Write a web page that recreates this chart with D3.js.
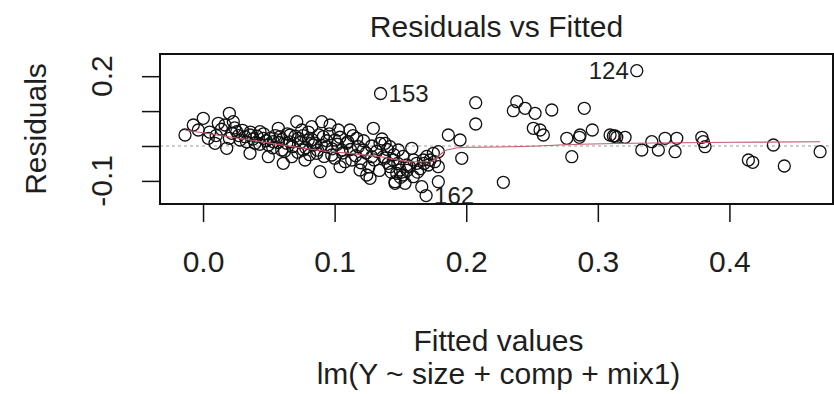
<!DOCTYPE html>
<html>
<head>
<meta charset="utf-8">
<script src="https://cdn.jsdelivr.net/npm/d3@7"></script>
<style>
  body { margin: 0; background: #fff; }
  svg { display: block; }
  text { font-family: "Liberation Sans", Arial, sans-serif; fill: #1e1e1e; }
</style>
</head>
<body>
<svg id="chart" width="834" height="394"></svg>
<script>
// Fitted values of the model lm(Y ~ size + comp + mix1)
const fitted = [
  -0.0137, -0.0074, -0.0036, 0.0002, 0.0040, 0.0091, 0.0116, 0.0167, 0.0200, 0.0180,
  0.0218, 0.0230, 0.0256, 0.0281, 0.0319, 0.0357, 0.0357, 0.0395, 0.0433, 0.0458,
  0.0496, 0.0496, 0.0534, 0.0572, 0.0585, 0.0598, 0.0610, 0.0636, 0.0661, 0.0674,
  0.0712, 0.0724, 0.0750, 0.0762, 0.0775, 0.0800, 0.0826, 0.0838, 0.0864, 0.0889,
  0.0902, 0.0914, 0.0940, 0.0965, 0.0978, 0.1003, 0.1028, 0.1041, 0.1054, 0.1092,
  0.1117, 0.1130, 0.1168, 0.1193, 0.1218, 0.1244, 0.1269, 0.1294, 0.1282, 0.1345,
  0.1370, 0.1408, 0.1421, 0.1459, 0.1472, 0.1484,
  0.005, 0.010, 0.014, 0.020, 0.024, 0.027, 0.030, 0.033, 0.036, 0.038,
  0.041, 0.043, 0.046, 0.048, 0.051, 0.053, 0.055, 0.057, 0.060, 0.062,
  0.064, 0.066, 0.068, 0.070, 0.072, 0.074, 0.076, 0.078, 0.080, 0.081,
  0.083, 0.085, 0.087, 0.088, 0.090, 0.092, 0.094, 0.096, 0.098, 0.100,
  0.102, 0.104, 0.106, 0.108, 0.110, 0.112, 0.114, 0.116, 0.118, 0.120,
  0.122, 0.124, 0.126, 0.128, 0.130, 0.132, 0.134, 0.136, 0.138, 0.140,
  0.143, 0.145, 0.148, 0.150, 0.152, 0.155, 0.157, 0.160, 0.163, 0.165,
  0.168, 0.170, 0.176,
  0.1383, 0.1421, 0.1446, 0.1497, 0.1522, 0.1535, 0.1459, 0.1548, 0.1586, 0.1598,
  0.1624, 0.1662, 0.1674, 0.1712, 0.1725, 0.1750, 0.1788, 0.1788, 0.1788, 0.1864,
  0.1953, 0.1966, 0.2072, 0.2072, 0.2282, 0.2384, 0.2358, 0.2447, 0.2523, 0.2510,
  0.2561, 0.2586, 0.2650, 0.2764, 0.2802, 0.2865, 0.2860, 0.2897, 0.2958, 0.3093,
  0.3118, 0.3144, 0.3207, 0.3131, 0.3334, 0.3410, 0.3460, 0.3511, 0.3587, 0.3600,
  0.3790, 0.3802, 0.3815, 0.4144, 0.4177, 0.4334, 0.4417, 0.4689,
  0.1349, 0.3296, 0.1695
];

// Residuals, same order as fitted
const residuals = [
  0.0315, 0.0602, 0.0458, 0.0794, 0.0221, 0.0077, 0.0650, 0.0602, 0.0937, -0.0066,
  0.0364, 0.0696, 0.0410, 0.0172, 0.0266, -0.0209, 0.0315, 0.0077, 0.0410, 0.0221,
  0.0029, -0.0307, 0.0123, 0.0507, 0.0266, -0.0115, -0.0496, 0.0077, 0.0315, -0.0307,
  0.0696, 0.0221, 0.0458, -0.0115, -0.0401, 0.0172, 0.0553, 0.0029, -0.0209, -0.0736,
  0.0696, 0.0266, -0.0020, 0.0602, -0.0258, 0.0172, 0.0458, -0.0593, -0.0115, 0.0077,
  0.0458, -0.0401, 0.0221, -0.0688, -0.0115, -0.0831, -0.0926, 0.0507, -0.0307, 0.0077,
  -0.0307, -0.0496, -0.0593, -0.1023, -0.0782, -0.0115,
  0.040, 0.030, 0.048, 0.022, 0.052, 0.030, 0.045, 0.012, 0.040, 0.020,
  0.028, 0.005, 0.035, 0.015, 0.022, -0.005, 0.030, 0.010, 0.018, -0.015,
  0.035, 0.012, -0.002, 0.028, -0.018, 0.010, 0.030, -0.005, 0.040, -0.025,
  0.018, 0.008, -0.012, 0.032, 0.002, -0.030, 0.015, 0.035, -0.008, -0.035,
  0.005, 0.025, -0.020, -0.045, 0.012, -0.010, 0.030, -0.028, -0.002, -0.048,
  0.015, -0.020, -0.060, 0.000, -0.040, -0.015, -0.070, 0.020, -0.035, -0.010,
  -0.075, -0.025, -0.050, -0.090, -0.030, -0.070, -0.060, -0.040, -0.075, -0.065,
  -0.050, -0.030, -0.045,
  0.0077, -0.0020, -0.0401, -0.0688, -0.0831, -0.1069, -0.1069, -0.0544, -0.0066, -0.0880,
  -0.0496, -0.1166, -0.0401, -0.0544, -0.0401, -0.0209, -0.1023, -0.0593, -0.0163, 0.0315,
  0.0172, -0.0352, 0.1241, 0.0630, -0.1040, 0.1269, 0.1011, 0.1080, 0.0937, 0.0507,
  0.0458, 0.0315, 0.1032, 0.0221, -0.0307, 0.0315, 0.0249, 0.1080, 0.0458, 0.0315,
  0.0287, 0.0249, 0.0249, 0.0287, -0.0115, 0.0123, -0.0115, 0.0221, -0.0163, 0.0221,
  0.0249, 0.0123, -0.0020, -0.0401, -0.0467, 0.0029, -0.0573, -0.0163,
  0.1504, 0.2158, -0.1420
];

// Observation numbers of the three largest residuals
const idLabels = ["153", "124", "162"];
const idFitted = [0.1349, 0.3296, 0.1695];
const idResid = [0.1504, 0.2158, -0.1420];
const idSide = ["right", "left", "right"];

// Smoothed trend of residuals against fitted values
const smoothFitted = [-0.0137, 0.0357, 0.0864, 0.1345, 0.1598, 0.1725, 0.1852, 0.2004, 0.2358, 0.2865, 0.3245, 0.4027, 0.4689];
const smoothResid  = [0.0458, 0.0172, -0.0115, -0.0307, -0.0450, -0.0450, -0.0115, -0.0037, -0.0020, 0.0049, 0.0077, 0.0106, 0.0123];

// Axis ticks
const xTicks = [0.0, 0.1, 0.2, 0.3, 0.4];
const xTickText = ["0.0", "0.1", "0.2", "0.3", "0.4"];
const yTicks = [-0.1, 0.0, 0.1, 0.2];
const yTickText = ["-0.1", "", "", "0.2"];

const titleText = "Residuals vs Fitted";
const xLabel = "Fitted values";
const subLabel = "lm(Y ~ size + comp + mix1)";
const yLabel = "Residuals";

const plot = { left: 160, right: 833, top: 54, bottom: 204 };
const svg = d3.select("#chart");

const x = d3.scaleLinear().domain([-0.0327, 0.4787]).range([plot.left, plot.right]);
const y = d3.scaleLinear().domain([-0.1662, 0.2636]).range([plot.bottom, plot.top]);

svg.append("defs").append("clipPath").attr("id", "plotClip")
  .append("rect")
  .attr("x", plot.left).attr("y", plot.top)
  .attr("width", plot.right - plot.left).attr("height", plot.bottom - plot.top);

// Reference line at zero
svg.append("line")
  .attr("x1", plot.left).attr("x2", plot.right)
  .attr("y1", y(0)).attr("y2", y(0))
  .attr("stroke", "#9a9a9a").attr("stroke-width", 1)
  .attr("stroke-dasharray", "3,3");

// Open-circle points
const pts = d3.range(fitted.length);
svg.append("g").attr("clip-path", "url(#plotClip)")
  .selectAll("circle").data(pts).join("circle")
  .attr("cx", i => x(fitted[i]))
  .attr("cy", i => y(residuals[i]))
  .attr("r", 6)
  .attr("fill", "none")
  .attr("stroke", "#111")
  .attr("stroke-width", 1.3);

// Smoother
const smooth = d3.range(smoothFitted.length).map(i => [smoothFitted[i], smoothResid[i]]);
svg.append("path")
  .datum(smooth)
  .attr("d", d3.line().x(d => x(d[0])).y(d => y(d[1])).curve(d3.curveMonotoneX))
  .attr("fill", "none")
  .attr("stroke", "#c9566e")
  .attr("stroke-width", 1.1);

// Labels for the flagged observations
const idG = svg.append("g").attr("clip-path", "url(#plotClip)");
idLabels.forEach((lab, i) => {
  const right = idSide[i] === "right";
  idG.append("text")
    .attr("x", x(idFitted[i]) + (right ? 8 : -8))
    .attr("y", y(idResid[i]))
    .attr("dy", "0.35em")
    .attr("text-anchor", right ? "start" : "end")
    .attr("font-size", 24)
    .text(lab);
});

// Frame
svg.append("rect")
  .attr("x", plot.left).attr("y", plot.top)
  .attr("width", plot.right - plot.left).attr("height", plot.bottom - plot.top)
  .attr("fill", "none").attr("stroke", "#111").attr("stroke-width", 2);

// X axis
const xAxis = svg.append("g")
  .attr("transform", `translate(0,${plot.bottom})`)
  .call(d3.axisBottom(x).tickValues(xTicks).tickSize(18).tickFormat((d, i) => xTickText[i]));
xAxis.select(".domain").remove();
xAxis.selectAll(".tick line").attr("stroke", "#111").attr("stroke-width", 1.5);
xAxis.selectAll(".tick text")
  .attr("y", 68).attr("dy", null)
  .attr("font-size", 30).attr("font-family", null).attr("fill", "#1e1e1e");

// Y axis
const yAxis = svg.append("g")
  .attr("transform", `translate(${plot.left},0)`)
  .call(d3.axisLeft(y).tickValues(yTicks).tickSize(18).tickFormat(""));
yAxis.select(".domain").remove();
yAxis.selectAll(".tick line").attr("stroke", "#111").attr("stroke-width", 1.5);

svg.append("g").selectAll("text").data(yTicks).join("text")
  .attr("transform", d => `translate(112,${y(d)}) rotate(-90)`)
  .attr("text-anchor", "middle")
  .attr("font-size", 30)
  .text((d, i) => yTickText[i]);

// Titles
const cx = (plot.left + plot.right) / 2;
svg.append("text").attr("x", cx).attr("y", 37).attr("text-anchor", "middle")
  .attr("font-size", 30).text(titleText);
svg.append("text").attr("x", cx + 2).attr("y", 351).attr("text-anchor", "middle")
  .attr("font-size", 30).text(xLabel);
svg.append("text").attr("x", cx + 2).attr("y", 384).attr("text-anchor", "middle")
  .attr("font-size", 30).text(subLabel);
svg.append("text")
  .attr("transform", `translate(46,${(plot.top + plot.bottom) / 2}) rotate(-90)`)
  .attr("text-anchor", "middle")
  .attr("font-size", 30).text(yLabel);
</script>
</body>
</html>
